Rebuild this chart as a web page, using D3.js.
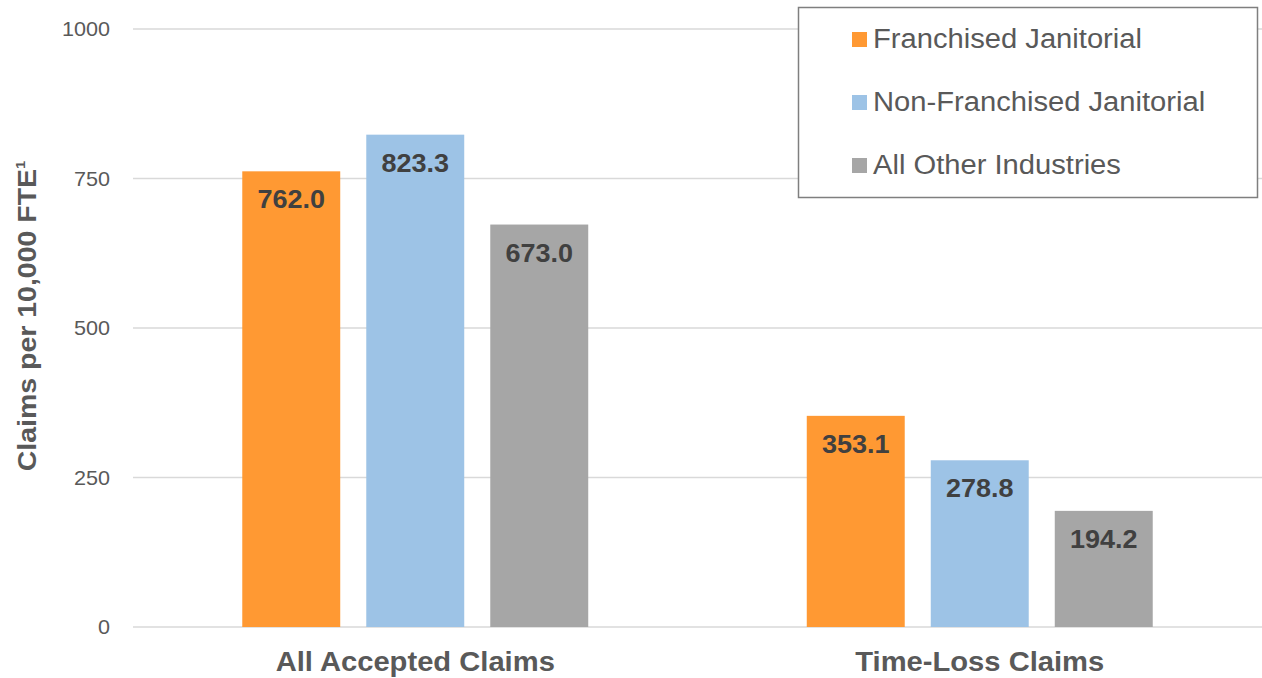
<!DOCTYPE html>
<html>
<head>
<meta charset="utf-8">
<script src="https://cdn.jsdelivr.net/npm/d3@7"></script>
<style>
  body { margin: 0; background: #fff; }
  svg { font-family: "Liberation Sans", Arial, sans-serif; }
</style>
</head>
<body>
<div id="container"></div>
<script>
// data
const categories = ["All Accepted Claims", "Time-Loss Claims"];
const seriesNames = ["Franchised Janitorial", "Non-Franchised Janitorial", "All Other Industries"];
const franchised = [762.0, 353.1];
const nonFranchised = [823.3, 278.8];
const allOther = [673.0, 194.2];
const yTicks = [0, 250, 500, 750, 1000];
const colors = ["#FF9933", "#9DC3E6", "#A6A6A6"];

const width = 1262, height = 678;
const margin = { top: 29, bottom: 51, left: 133, right: 0 };
const stretch = 1.08; // text in the original is a bit wider than Arial

const seriesValues = [franchised, nonFranchised, allOther];
const rows = [];
categories.forEach((c, ci) => {
  seriesNames.forEach((s, si) => rows.push({ cat: c, series: s, value: seriesValues[si][ci] }));
});

const svg = d3.select("#container").append("svg")
  .attr("width", width).attr("height", height);

const y = d3.scaleLinear().domain([0, 1000]).range([height - margin.bottom, margin.top]);
const x0 = d3.scaleBand().domain(categories).range([margin.left, width - margin.right]).padding(0);
const inner = 372;
const off = (x0.bandwidth() - inner) / 2;
const x1 = d3.scaleBand().domain(seriesNames).range([off, off + inner])
  .paddingInner(0.21).paddingOuter(0.105);
const color = d3.scaleOrdinal().domain(seriesNames).range(colors);

const at = (x, y) => `translate(${x},${y}) scale(${stretch},1)`;

// gridlines
svg.selectAll(".grid")
  .data(yTicks)
  .join("line")
  .attr("x1", margin.left).attr("x2", width - margin.right)
  .attr("y1", d => y(d)).attr("y2", d => y(d))
  .attr("stroke", "#D9D9D9").attr("stroke-width", 1.5);

// y tick labels
svg.selectAll(".ytick")
  .data(yTicks)
  .join("text")
  .attr("transform", d => at(110, y(d)))
  .attr("dy", "0.35em")
  .attr("text-anchor", "end")
  .attr("font-size", 20)
  .attr("fill", "#595959")
  .text(d => d);

// bars
svg.selectAll(".bar")
  .data(rows)
  .join("rect")
  .attr("x", d => x0(d.cat) + x1(d.series))
  .attr("y", d => y(d.value))
  .attr("width", x1.bandwidth())
  .attr("height", d => y(0) - y(d.value))
  .attr("fill", d => color(d.series));

// value labels
svg.selectAll(".val")
  .data(rows)
  .join("text")
  .attr("transform", d => at(x0(d.cat) + x1(d.series) + x1.bandwidth() / 2, y(d.value) + 37))
  .attr("text-anchor", "middle")
  .attr("font-size", 25)
  .attr("font-weight", "bold")
  .attr("fill", "#404040")
  .text(d => d.value.toFixed(1));

// category labels
svg.selectAll(".cat")
  .data(categories)
  .join("text")
  .attr("transform", d => at(x0(d) + x0.bandwidth() / 2, 671))
  .attr("text-anchor", "middle")
  .attr("font-size", 27)
  .attr("font-weight", "bold")
  .attr("fill", "#595959")
  .text(d => d);

// y axis title
const yt = svg.append("text")
  .attr("transform", "translate(36,316) rotate(-90) scale(1.14,1)")
  .attr("text-anchor", "middle")
  .attr("font-size", 25)
  .attr("font-weight", "bold")
  .attr("fill", "#595959");
yt.append("tspan").text("Claims per 10,000 FTE");
yt.append("tspan").attr("font-size", 13).attr("dy", -11).text("1");

// legend
svg.append("rect")
  .attr("x", 798.5).attr("y", 7.5)
  .attr("width", 459).attr("height", 190)
  .attr("fill", "#fff")
  .attr("stroke", "#7F7F7F").attr("stroke-width", 1.5);

const leg = svg.selectAll(".leg")
  .data(seriesNames)
  .join("g")
  .attr("transform", (d, i) => `translate(852,${48 + i * 63})`);
leg.append("rect")
  .attr("x", 0).attr("y", -16)
  .attr("width", 15).attr("height", 15)
  .attr("fill", d => color(d));
leg.append("text")
  .attr("transform", at(21, 0))
  .attr("font-size", 27)
  .attr("fill", "#595959")
  .text(d => d);
</script>
</body>
</html>
